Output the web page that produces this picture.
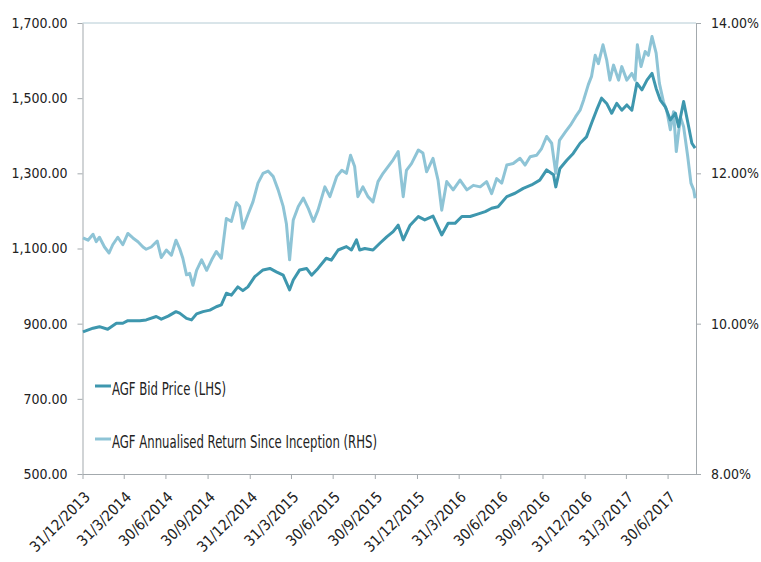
<!DOCTYPE html>
<html>
<head>
<meta charset="utf-8">
<script src="https://cdn.jsdelivr.net/npm/d3@7"></script>
<style>
  body { margin: 0; background: #fff; }
  .axis text { font-family: 'DejaVu Sans Condensed', 'DejaVu Sans', sans-serif; font-size: 14px; fill: #222; }
  .axis path, .axis line { stroke: #a3a9ad; }
  .legend text { font-family: 'DejaVu Sans Condensed', sans-serif; font-size: 17px; fill: #222; }
</style>
</head>
<body>
<div id="chart"></div>
<script>
// AGF Bid Price (LHS)
var priceDates = ['2014-01-01', '2014-01-23', '2014-02-06', '2014-02-24', '2014-03-15', '2014-03-29', '2014-04-09', '2014-05-05', '2014-05-19', '2014-06-10', '2014-06-21', '2014-07-06', '2014-07-23', '2014-07-31', '2014-08-15', '2014-08-26', '2014-09-06', '2014-09-20', '2014-10-05', '2014-10-19', '2014-10-30', '2014-11-10', '2014-11-21', '2014-12-05', '2014-12-16', '2014-12-27', '2015-01-11', '2015-01-29', '2015-02-13', '2015-02-27', '2015-03-14', '2015-03-28', '2015-04-05', '2015-04-19', '2015-05-04', '2015-05-15', '2015-05-29', '2015-06-16', '2015-06-27', '2015-07-12', '2015-07-30', '2015-08-10', '2015-08-21', '2015-08-28', '2015-09-08', '2015-09-26', '2015-10-11', '2015-10-26', '2015-11-09', '2015-11-20', '2015-12-01', '2015-12-16', '2016-01-03', '2016-01-17', '2016-02-04', '2016-02-23', '2016-03-08', '2016-03-23', '2016-04-07', '2016-04-25', '2016-05-13', '2016-05-28', '2016-06-11', '2016-06-25', '2016-07-14', '2016-08-01', '2016-08-19', '2016-09-06', '2016-09-24', '2016-10-09', '2016-10-24', '2016-10-29', '2016-11-07', '2016-11-22', '2016-12-06', '2016-12-21', '2017-01-04', '2017-01-15', '2017-01-26', '2017-02-06', '2017-02-17', '2017-02-28', '2017-03-11', '2017-03-22', '2017-04-02', '2017-04-13', '2017-04-24', '2017-05-05', '2017-05-16', '2017-05-27', '2017-06-05', '2017-06-14', '2017-06-25', '2017-07-06', '2017-07-17', '2017-07-24', '2017-08-04', '2017-08-15', '2017-08-22', '2017-08-29'];
var priceValues = [878, 888, 892, 885, 901, 901, 908, 908, 910, 919, 912, 920, 932, 928, 914, 910, 926, 932, 936, 945, 950, 981, 976, 998, 988, 998, 1025, 1043, 1047, 1038, 1029, 990, 1016, 1043, 1047, 1029, 1047, 1074, 1069, 1096, 1105, 1096, 1123, 1096, 1100, 1096, 1114, 1131, 1145, 1162, 1123, 1162, 1185, 1176, 1186, 1136, 1167, 1167, 1185, 1185, 1192, 1198, 1207, 1211, 1238, 1247, 1260, 1269, 1282, 1309, 1296, 1264, 1313, 1335, 1353, 1380, 1397, 1433, 1468, 1500, 1486, 1460, 1486, 1468, 1482, 1468, 1540, 1522, 1548, 1566, 1526, 1495, 1477, 1442, 1460, 1424, 1491, 1424, 1380, 1367];

// AGF Annualised Return Since Inception (RHS), in %
var returnDates = ['2014-01-01', '2014-01-12', '2014-01-23', '2014-01-30', '2014-02-06', '2014-02-17', '2014-02-27', '2014-03-07', '2014-03-18', '2014-03-29', '2014-04-09', '2014-04-20', '2014-05-01', '2014-05-12', '2014-05-19', '2014-05-30', '2014-06-12', '2014-06-21', '2014-07-02', '2014-07-13', '2014-07-23', '2014-07-31', '2014-08-07', '2014-08-15', '2014-08-22', '2014-08-29', '2014-09-06', '2014-09-17', '2014-09-28', '2014-10-09', '2014-10-19', '2014-10-30', '2014-11-10', '2014-11-21', '2014-12-02', '2014-12-09', '2014-12-16', '2014-12-27', '2015-01-07', '2015-01-18', '2015-01-29', '2015-02-09', '2015-02-20', '2015-03-03', '2015-03-14', '2015-03-21', '2015-03-28', '2015-04-05', '2015-04-16', '2015-04-27', '2015-05-08', '2015-05-19', '2015-05-29', '2015-06-13', '2015-06-24', '2015-07-09', '2015-07-20', '2015-07-30', '2015-08-08', '2015-08-17', '2015-08-24', '2015-09-04', '2015-09-15', '2015-09-26', '2015-10-07', '2015-10-18', '2015-10-29', '2015-11-09', '2015-11-20', '2015-12-01', '2015-12-08', '2015-12-19', '2016-01-03', '2016-01-13', '2016-01-21', '2016-02-04', '2016-02-15', '2016-02-23', '2016-03-05', '2016-03-19', '2016-04-03', '2016-04-18', '2016-05-02', '2016-05-17', '2016-05-31', '2016-06-11', '2016-06-22', '2016-07-03', '2016-07-14', '2016-07-28', '2016-08-12', '2016-08-23', '2016-09-03', '2016-09-17', '2016-09-28', '2016-10-09', '2016-10-20', '2016-10-29', '2016-11-06', '2016-11-19', '2016-11-30', '2016-12-11', '2016-12-21', '2016-12-29', '2017-01-08', '2017-01-15', '2017-01-23', '2017-01-30', '2017-02-09', '2017-02-17', '2017-02-24', '2017-03-04', '2017-03-15', '2017-03-22', '2017-04-02', '2017-04-13', '2017-04-20', '2017-04-25', '2017-05-03', '2017-05-12', '2017-05-19', '2017-05-27', '2017-06-05', '2017-06-12', '2017-06-21', '2017-06-28', '2017-07-06', '2017-07-13', '2017-07-19', '2017-07-28', '2017-08-04', '2017-08-13', '2017-08-20', '2017-08-26', '2017-08-29'];
var returnValues = [11.14, 11.11, 11.19, 11.09, 11.15, 11.02, 10.94, 11.05, 11.15, 11.05, 11.20, 11.14, 11.09, 11.02, 10.99, 11.02, 11.10, 10.88, 10.98, 10.91, 11.11, 11.00, 10.87, 10.65, 10.67, 10.51, 10.71, 10.85, 10.71, 10.85, 10.96, 10.87, 11.40, 11.36, 11.61, 11.56, 11.27, 11.45, 11.62, 11.87, 12.00, 12.03, 11.96, 11.78, 11.56, 11.33, 10.85, 11.38, 11.56, 11.67, 11.53, 11.36, 11.51, 11.82, 11.69, 11.96, 12.04, 12.00, 12.24, 12.09, 11.69, 11.82, 11.69, 11.62, 11.89, 12.00, 12.09, 12.18, 12.29, 11.69, 12.04, 12.13, 12.31, 12.27, 12.02, 12.20, 11.91, 11.51, 11.89, 11.78, 11.91, 11.78, 11.84, 11.82, 11.89, 11.73, 11.93, 11.87, 12.11, 12.13, 12.20, 12.11, 12.22, 12.24, 12.33, 12.49, 12.40, 12.00, 12.44, 12.55, 12.64, 12.75, 12.84, 12.98, 13.18, 13.29, 13.57, 13.46, 13.71, 13.51, 13.24, 13.44, 13.24, 13.42, 13.24, 13.33, 13.24, 13.71, 13.42, 13.62, 13.57, 13.82, 13.60, 13.20, 12.95, 12.84, 12.58, 12.82, 12.29, 12.75, 12.62, 12.22, 11.87, 11.78, 11.67];

var xTickDates = ['2013-12-31', '2014-03-31', '2014-06-30', '2014-09-30', '2014-12-31', '2015-03-31', '2015-06-30', '2015-09-30', '2015-12-31', '2016-03-31', '2016-06-30', '2016-09-30', '2016-12-31', '2017-03-31', '2017-06-30'];
var leftTicks = [500, 700, 900, 1100, 1300, 1500, 1700];
var rightTicks = [8, 10, 12, 14];
var seriesNames = ['AGF Bid Price (LHS)', 'AGF Annualised Return Since Inception (RHS)'];

var w = 761, h = 562;
var margin = { top: 23, right: 65, bottom: 88, left: 82.5 };
var colors = ['#3e97ae', '#8ec4d6'];

var parse = d3.timeParse('%Y-%m-%d');
var fmtTick = d3.timeFormat('%-d/%-m/%Y');

var price = priceDates.map(function(d, i) {
  return { date: parse(d), value: priceValues[i] };
});
var ret = returnDates.map(function(d, i) {
  return { date: parse(d), value: returnValues[i] };
});

var xScale = d3
  .scaleTime()
  .domain([parse('2013-12-31'), parse('2017-08-31')])
  .range([margin.left, w - margin.right]);

var yLeft = d3
  .scaleLinear()
  .domain([500, 1700])
  .range([h - margin.bottom, margin.top]);

var yRight = d3
  .scaleLinear()
  .domain([8, 14])
  .range([h - margin.bottom, margin.top]);

var svg = d3
  .select('#chart')
  .append('svg')
  .attr('width', w)
  .attr('height', h);

// top border of plot area
svg
  .append('line')
  .attr('x1', margin.left)
  .attr('x2', w - margin.right)
  .attr('y1', margin.top)
  .attr('y2', margin.top)
  .attr('stroke', '#b4cbd4');

var xAxis = d3
  .axisBottom(xScale)
  .tickValues(xTickDates.map(parse))
  .tickFormat(fmtTick)
  .tickSizeInner(5)
  .tickSizeOuter(0);

var gx = svg
  .append('g')
  .attr('class', 'axis')
  .attr('transform', 'translate(0,' + (h - margin.bottom) + ')')
  .call(xAxis);
gx.selectAll('text')
  .attr('text-anchor', 'end')
  .attr('dy', null)
  .attr('y', 0)
  .style('font-size', '15px')
  .attr('transform', 'translate(8,24) rotate(-45)');

svg
  .append('g')
  .attr('class', 'axis')
  .attr('transform', 'translate(' + margin.left + ',0)')
  .call(
    d3
      .axisLeft(yLeft)
      .tickValues(leftTicks)
      .tickFormat(d3.format(',.2f'))
      .tickSizeInner(5)
      .tickSizeOuter(0)
      .tickPadding(10)
  );

svg
  .append('g')
  .attr('class', 'axis')
  .attr('transform', 'translate(' + (w - margin.right) + ',0)')
  .call(
    d3
      .axisRight(yRight)
      .tickValues(rightTicks)
      .tickFormat(function(n) {
        return n.toFixed(2) + '%';
      })
      .tickSizeInner(5)
      .tickSizeOuter(0)
      .tickPadding(10)
  );

var lineLeft = d3
  .line()
  .x(function(d) { return xScale(d.date); })
  .y(function(d) { return yLeft(d.value); });

var lineRight = d3
  .line()
  .x(function(d) { return xScale(d.date); })
  .y(function(d) { return yRight(d.value); });

svg
  .append('path')
  .datum(ret)
  .attr('fill', 'none')
  .attr('stroke', colors[1])
  .attr('stroke-width', 3)
  .attr('stroke-linejoin', 'round')
  .attr('d', lineRight);

svg
  .append('path')
  .datum(price)
  .attr('fill', 'none')
  .attr('stroke', colors[0])
  .attr('stroke-width', 3)
  .attr('stroke-linejoin', 'round')
  .attr('d', lineLeft);

// legend
var legend = svg.append('g').attr('class', 'legend');
var legendY = [386, 439];
var legendW = [114, 265];
seriesNames.forEach(function(name, i) {
  legend
    .append('line')
    .attr('x1', 95)
    .attr('x2', 111)
    .attr('y1', legendY[i])
    .attr('y2', legendY[i])
    .attr('stroke', colors[i])
    .attr('stroke-width', 3);
  legend
    .append('text')
    .attr('x', 112)
    .attr('y', legendY[i] + 9)
    .attr('textLength', legendW[i])
    .attr('lengthAdjust', 'spacingAndGlyphs')
    .text(name);
});
</script>
</body>
</html>
